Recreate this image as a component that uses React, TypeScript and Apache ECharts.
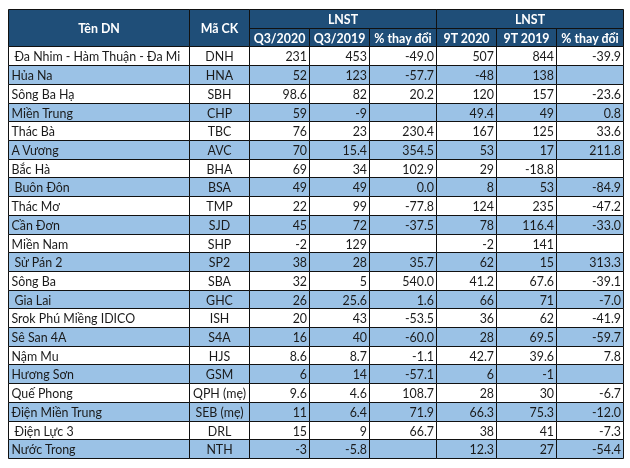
import React, { useEffect, useRef } from "react";
import * as echarts from "echarts";

const GROUP_HEADERS = ["LNST", "LNST"];
const COL_HEADERS = ["Tên DN", "Mã CK", "Q3/2020", "Q3/2019", "% thay đổi", "9T 2020", "9T 2019", "% thay đổi"];

const NAMES = [
  " Đa Nhim - Hàm Thuận - Đa Mi", "Hủa Na", "Sông Ba Hạ", "Miền Trung", "Thác Bà", "A Vương", "Bắc Hà",
  " Buôn Đôn", "Thác Mơ", "Cần Đơn", "Miền Nam", " Sử Pán 2", "Sông Ba", " Gia Lai", "Srok Phú Miềng IDICO",
  "Sê San 4A", "Nậm Mu", "Hương Sơn", "Quế Phong", "Điện Miền Trung", " Điện Lực 3", "Nước Trong",
];
const CODES = [
  "DNH", "HNA", "SBH", "CHP", "TBC", "AVC", "BHA", "BSA", "TMP", "SJD", "SHP", "SP2", "SBA", "GHC", "ISH",
  "S4A", "HJS", "GSM", "QPH (mẹ)", "SEB (mẹ)", "DRL", "NTH",
];
const Q3_2020 = [231, 52, 98.6, 59, 76, 70, 69, 49, 22, 45, -2, 38, 32, 26, 20, 16, 8.6, 6, 9.6, 11, 15, -3];
const Q3_2019 = [453, 123, 82, -9, 23, 15.4, 34, 49, 99, 72, 129, 28, 5, 25.6, 43, 40, 8.7, 14, 4.6, 6.4, 9, -5.8];
const Q3_PCT = [-49.0, -57.7, 20.2, null, 230.4, 354.5, 102.9, 0.0, -77.8, -37.5, null, 35.7, 540.0, 1.6, -53.5, -60.0, -1.1, -57.1, 108.7, 71.9, 66.7, null];
const T9_2020 = [507, -48, 120, 49.4, 167, 53, 29, 8, 124, 78, -2, 62, 41.2, 66, 36, 28, 42.7, 6, 28, 66.3, 38, 12.3];
const T9_2019 = [844, 138, 157, 49, 125, 17, -18.8, 53, 235, 116.4, 141, 15, 67.6, 71, 62, 69.5, 39.6, -1, 30, 75.3, 41, 27];
const T9_PCT = [-39.9, null, -23.6, 0.8, 33.6, 211.8, null, -84.9, -47.2, -33.0, null, 313.3, -39.1, -7.0, -41.9, -59.7, 7.8, null, -6.7, -12.0, -7.3, -54.4];

// layout
const COL_WIDTHS = [181, 59.7, 60.3, 60, 67.7, 59.3, 60.7, 66.6];
const EDGES = COL_WIDTHS.reduce((a, w) => { a.push(a[a.length - 1] + w); return a; }, [0] as number[]);
const TOTAL_W = EDGES[EDGES.length - 1];
const HEAD_ROWS = 2;
const TOTAL_ROWS = HEAD_ROWS + NAMES.length;

const HEAD_BG = "#1F4E78";
const ALT_BG = "#9BC2E6";
const FONT_FAMILY = "Lato, 'Noto Sans', sans-serif";
const FONT_SIZE = 12.4;

type Cell = { c0: number; c1: number; r0: number; r1: number; text: string; align: string; head: boolean; indent: number; bg: string };

function num(v: number | null) { return v == null ? "" : String(v); }
function pct(v: number | null) { return v == null ? "" : v.toFixed(1); }

function buildCells(): Cell[] {
  const cells: Cell[] = [];
  NAMES.forEach((name, i) => {
    const r = HEAD_ROWS + i;
    const bg = i % 2 === 0 ? "#FFFFFF" : ALT_BG;
    const vals = [
      name.trim(), CODES[i], num(Q3_2020[i]), num(Q3_2019[i]), pct(Q3_PCT[i]),
      num(T9_2020[i]), num(T9_2019[i]), pct(T9_PCT[i]),
    ];
    vals.forEach((t, c) => {
      cells.push({
        c0: c, c1: c + 1, r0: r, r1: r + 1, text: t,
        align: c === 0 ? "left" : c === 1 ? "center" : "right",
        head: false, indent: c === 0 && name.startsWith(" ") ? 3 : 0, bg,
      });
    });
  });
  cells.push({ c0: 0, c1: 1, r0: 0, r1: 2, text: COL_HEADERS[0], align: "center", head: true, indent: 0, bg: HEAD_BG });
  cells.push({ c0: 1, c1: 2, r0: 0, r1: 2, text: COL_HEADERS[1], align: "center", head: true, indent: 0, bg: HEAD_BG });
  cells.push({ c0: 2, c1: 5, r0: 0, r1: 1, text: GROUP_HEADERS[0], align: "center", head: true, indent: 0, bg: HEAD_BG });
  cells.push({ c0: 5, c1: 8, r0: 0, r1: 1, text: GROUP_HEADERS[1], align: "center", head: true, indent: 0, bg: HEAD_BG });
  for (let c = 2; c < 8; c++) {
    cells.push({ c0: c, c1: c + 1, r0: 1, r1: 2, text: COL_HEADERS[c], align: "center", head: true, indent: 0, bg: HEAD_BG });
  }
  return cells;
}

const CELLS = buildCells();

export default function App() {
  const ref = useRef<HTMLDivElement>(null);
  useEffect(() => {
    if (!ref.current) return;
    const chart = echarts.init(ref.current, null, { renderer: "svg" });
    chart.setOption({
      animation: false,
      grid: { left: 8, top: 9, width: 615, height: 449 },
      xAxis: { type: "value", min: 0, max: TOTAL_W, show: false },
      yAxis: { type: "value", min: 0, max: TOTAL_ROWS, inverse: true, show: false },
      series: [
        {
          type: "custom",
          silent: true,
          clip: false,
          data: CELLS.map((c) => [EDGES[c.c0], c.r0]),
          renderItem: (params: any, api: any) => {
            const cell = CELLS[params.dataIndex];
            const p0 = api.coord([EDGES[cell.c0], cell.r0]);
            const p1 = api.coord([EDGES[cell.c1], cell.r1]);
            const x0 = Math.round(p0[0]) + 0.5;
            const y0 = Math.round(p0[1]) + 0.5;
            const x1 = Math.round(p1[0]) + 0.5;
            const y1 = Math.round(p1[1]) + 0.5;
            let tx = (x0 + x1) / 2;
            if (cell.align === "left") tx = x0 + 3 + cell.indent;
            if (cell.align === "right") tx = x1 - 2.5;
            return {
              type: "group",
              children: [
                {
                  type: "rect",
                  shape: { x: x0, y: y0, width: x1 - x0, height: y1 - y0 },
                  style: { fill: cell.bg, stroke: "#111", lineWidth: 1 },
                },
                {
                  type: "text",
                  style: {
                    text: cell.text,
                    x: tx,
                    y: (y0 + y1) / 2 + 0.5,
                    align: cell.align,
                    verticalAlign: "middle",
                    fontFamily: FONT_FAMILY,
                    fontSize: cell.head ? 12.4 : FONT_SIZE,
                    fontWeight: cell.head ? "bold" : "normal",
                    fill: cell.head ? "#FFFFFF" : "#1a1a1a",
                  },
                },
              ],
            };
          },
        },
      ],
    });
    return () => chart.dispose();
  }, []);
  return <div ref={ref} style={{ position: "fixed", left: 0, top: 0, width: 630, height: 468 }} />;
}
